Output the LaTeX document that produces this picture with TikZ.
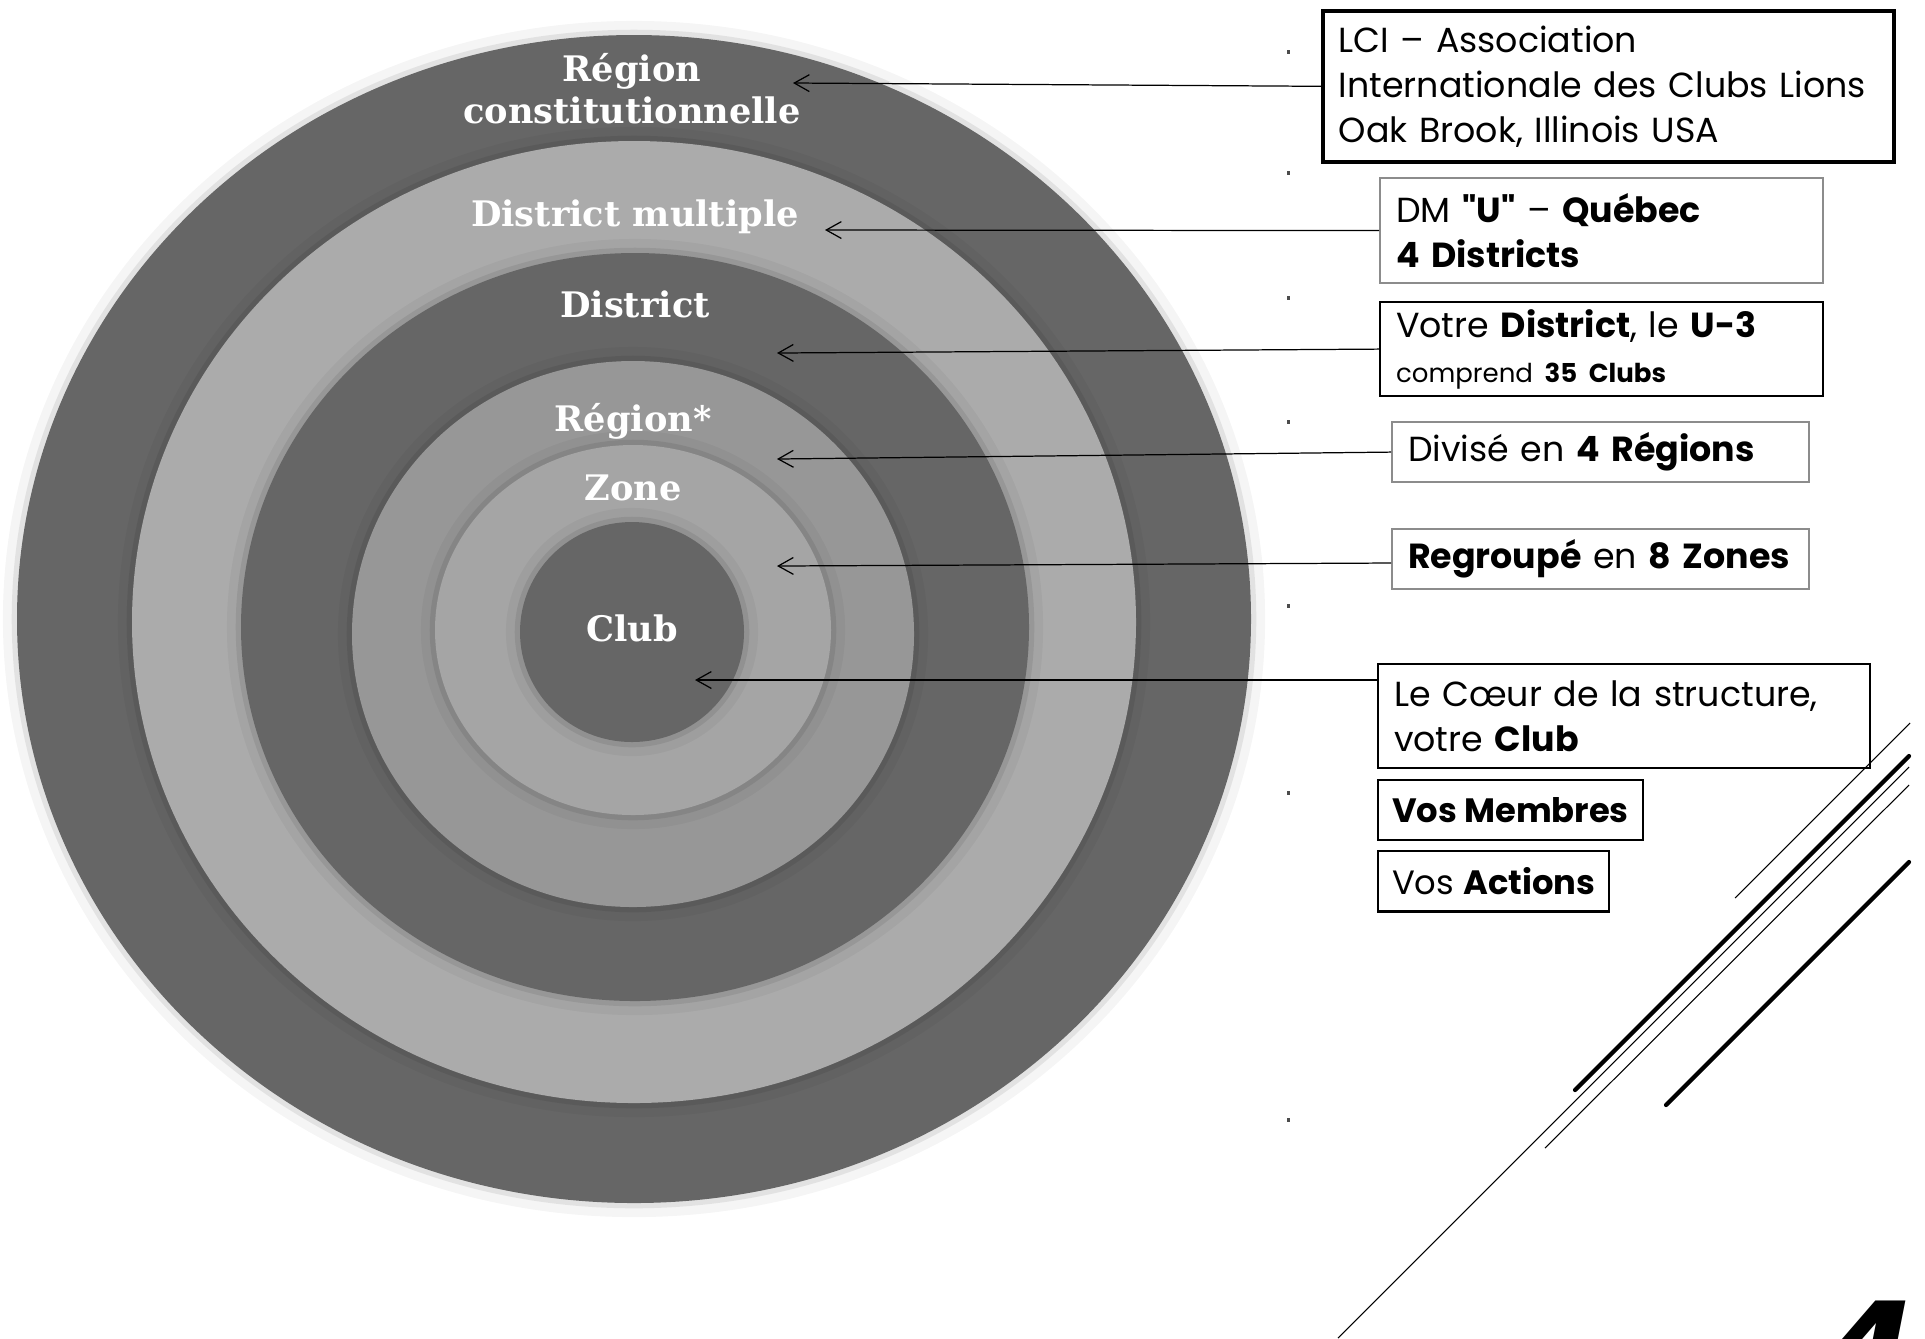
\documentclass[tikz,border=0pt]{standalone}
\usepackage{fontspec}
\setmainfont{Poppins}[Ligatures=TeXOff]
\newfontfamily\ringfont{DejaVu Serif}
\newfontfamily\numfont{DejaVu Sans}
\usetikzlibrary{positioning,arrows.meta}
\hyphenpenalty=10000
\exhyphenpenalty=10000
\definecolor{ringdark}{HTML}{666666}
\definecolor{ringlight}{HTML}{ABABAB}
\definecolor{ringmid}{HTML}{979797}
\definecolor{ringzone}{HTML}{A5A5A5}
\definecolor{boxgrey}{HTML}{8C8C8C}
\tikzset{
    infobox/.style={rectangle,draw=black,line width=0.6pt,anchor=north west,align=left,inner xsep=0.16cm,inner ysep=0pt,font=\fontsize{9.9}{12.8}\selectfont},
    greybox/.style={infobox,draw=boxgrey},
    tagbox/.style={rectangle,draw=black,line width=0.6pt,inner xsep=0.14cm,inner ysep=0pt,minimum height=0.6cm,font=\fontsize{9.6}{12}\selectfont},
    ringlabel/.style={text=white,align=center,font=\ringfont\bfseries\fontsize{10}{12}\selectfont},
    pointer/.style={-{Straight Barb[length=4.3pt,width=4.8pt]},line width=0.35pt},
    slash/.style={line width=0.3pt},
    thickslash/.style={line width=1.2pt,line cap=round},
}

\begin{document}
\begin{tikzpicture}[x=0.01cm,y=-0.01cm]
\useasboundingbox (0,0) rectangle (1925,1338);
\clip (0,0) rectangle (1925,1338);
% target rings, outer to inner
\foreach \cx/\cy/\rx/\ry/\col in {634/619/617/584/ringdark,634/622/502/481/ringlight,635/627/394/374/ringdark,633/634/281/273/ringmid,633/630/198/185/ringzone,632/632/112/110/ringdark}{
  \fill[black,opacity=0.04] (\cx,\cy) ellipse [x radius=\rx*0.01cm+4pt,y radius=\ry*0.01cm+4pt];
  \fill[black,opacity=0.08] (\cx,\cy) ellipse [x radius=\rx*0.01cm+1.5pt,y radius=\ry*0.01cm+1.5pt];
  \fill[\col] (\cx,\cy) ellipse [x radius=\rx*0.01cm,y radius=\ry*0.01cm];
}
\node[ringlabel] (rc) at (632,89) {Région\\constitutionnelle};
\node[ringlabel] (dm) at (635,217) {District multiple};
\node[ringlabel] (dist) at (635,304) {District};
\node[ringlabel] (reg) at (633,421) {Région*};
\node[ringlabel] (zone) at (633,488) {Zone};
\node[ringlabel] (club) at (632,628) {Club};

% boxes on the right
\node[infobox,line width=1pt,text width=5.39cm,minimum height=1.51cm] (lci) at (1321,9) {LCI – Association\\Internationale des Clubs Lions\\Oak Brook, Illinois USA};
\node[greybox,text width=4.11cm,minimum height=1.05cm] (dmbox) at (1379,177) {DM \textbf{"U"} – \textbf{Québec}\\\textbf{4 Districts}};
\node[infobox,text width=4.11cm,minimum height=0.94cm] (u3) at (1379,301) {Votre \textbf{District}, le \textbf{U-3}\\{\fontsize{7.4}{10.5}\selectfont comprend \textbf{35 Clubs}}};
\node[greybox,text width=3.85cm,minimum height=0.60cm] (regbox) at (1391,421) {Divisé en \textbf{4 Régions}};
\node[greybox,text width=3.85cm,minimum height=0.60cm] (zonebox) at (1391,528) {\textbf{Regroupé} en \textbf{8 Zones}};
\node[infobox,text width=4.60cm,minimum height=1.04cm] (coeur) at (1377,663) {Le Cœur de la structure,\\votre \textbf{Club}};
\node[tagbox,below=0.1cm of coeur.south west,anchor=north west] (membres) {\textbf{Vos Membres}};
\node[tagbox,below=0.09cm of membres.south west,anchor=north west] (actions) {Vos \textbf{Actions}};

% arrow tips on the rings
\coordinate (tipRC) at (793,83);
\coordinate (tipDM) at (825,230);
\coordinate (tipDist) at (777,353);
\coordinate (tipReg) at (777,459);
\coordinate (tipZone) at (777,566);
\coordinate (tipClub) at (695,680);
\draw[pointer] (lci.west) -- (tipRC);
\draw[pointer] (dmbox.west) -- (tipDM);
\draw[pointer] (u3.west) -- (tipDist);
\draw[pointer] (regbox.west) -- (tipReg);
\draw[pointer] (zonebox.west |- 0,563) -- (tipZone);
\draw[pointer] (coeur.west |- tipClub) -- (tipClub);

% small marks
\foreach \my in {52,173,298,422,606,793,1120}
  \fill[black!70] (1287,\my-2) rectangle (1290,\my+2);

% slanted lines
\draw[slash] (1735,898) -- (1910,723);
\draw[thickslash] (1575,1090) -- (1909,756);
\draw[slash] (1338,1338) -- (1909,767);
\draw[slash] (1545,1148) -- (1909,785);
\draw[thickslash] (1666,1105) -- (1909,862);

\node[font=\numfont\bfseries\itshape\fontsize{40}{40}\selectfont,anchor=north west,inner sep=0pt] (pagenum) at (1818,1300) {4};
\end{tikzpicture}
\end{document}
